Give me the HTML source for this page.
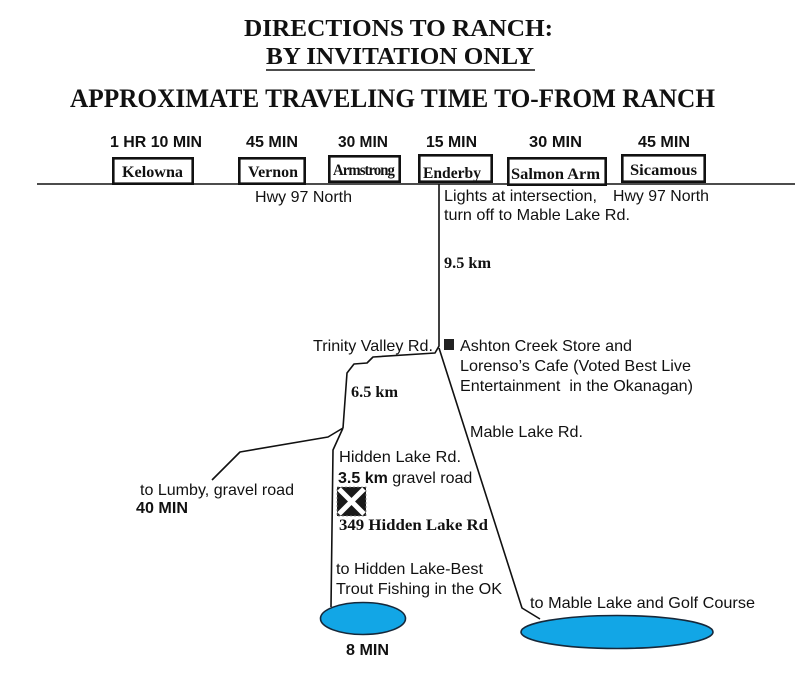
<!DOCTYPE html>
<html>
<head>
<meta charset="utf-8">
<style>
html,body{margin:0;padding:0;background:#fff;}
svg{display:block;}
.t{font-family:"Liberation Serif",serif;font-weight:bold;fill:#111;}
.s{font-family:"Liberation Sans",Arial,sans-serif;fill:#111;font-size:16px;}
.sb{font-family:"Liberation Sans",Arial,sans-serif;fill:#111;font-size:16px;font-weight:bold;}
.c{font-family:"Liberation Serif",serif;fill:#111;font-size:16px;font-weight:bold;}
.ln{stroke:#111;stroke-width:1.6;fill:none;stroke-linejoin:round;}
.bx{stroke:#111;stroke-width:2.6;fill:#fff;}
</style>
</head>
<body>
<svg width="800" height="698" viewBox="0 0 800 698" xmlns="http://www.w3.org/2000/svg">
  <rect width="800" height="698" fill="#fff"/>

  <!-- Titles -->
  <text class="t" x="244" y="36" font-size="24" textLength="309" lengthAdjust="spacingAndGlyphs">DIRECTIONS TO RANCH:</text>
  <text class="t" x="266" y="64" font-size="24" textLength="268" lengthAdjust="spacingAndGlyphs">BY INVITATION ONLY</text>
  <line x1="266" y1="70" x2="535" y2="70" stroke="#111" stroke-width="1.6"/>
  <text class="t" x="70" y="107" font-size="26" textLength="645" lengthAdjust="spacingAndGlyphs">APPROXIMATE TRAVELING TIME TO-FROM RANCH</text>

  <!-- Time labels -->
  <text class="sb" x="110" y="147" textLength="92" lengthAdjust="spacingAndGlyphs">1 HR 10 MIN</text>
  <text class="sb" x="246" y="147" textLength="52" lengthAdjust="spacingAndGlyphs">45 MIN</text>
  <text class="sb" x="338" y="147" textLength="50" lengthAdjust="spacingAndGlyphs">30 MIN</text>
  <text class="sb" x="426" y="147" textLength="51" lengthAdjust="spacingAndGlyphs">15 MIN</text>
  <text class="sb" x="529" y="147" textLength="53" lengthAdjust="spacingAndGlyphs">30 MIN</text>
  <text class="sb" x="638" y="147" textLength="52" lengthAdjust="spacingAndGlyphs">45 MIN</text>

  <!-- Main highway line -->
  <line x1="37" y1="184" x2="795" y2="184" stroke="#111" stroke-width="1.6"/>

  <!-- City boxes -->
  <rect class="bx" x="113.3" y="158.3" width="79.4" height="25.4"/>
  <rect class="bx" x="239.3" y="158.3" width="65.4" height="25.4"/>
  <rect class="bx" x="329.3" y="156.3" width="70.4" height="25.4"/>
  <rect class="bx" x="419.3" y="155.3" width="72.4" height="26.4"/>
  <rect class="bx" x="508.3" y="158.3" width="97.4" height="26.4"/>
  <rect class="bx" x="622.3" y="155.3" width="82.4" height="26.4"/>

  <text class="c" x="122" y="177" textLength="61" lengthAdjust="spacingAndGlyphs">Kelowna</text>
  <text class="c" x="248" y="177" textLength="50" lengthAdjust="spacingAndGlyphs">Vernon</text>
  <text class="c" x="333" y="175" textLength="61" lengthAdjust="spacingAndGlyphs" style="letter-spacing:-1px">Armstrong</text>
  <text class="c" x="423" y="178" textLength="58" lengthAdjust="spacingAndGlyphs">Enderby</text>
  <text class="c" x="511" y="179" textLength="89" lengthAdjust="spacingAndGlyphs">Salmon Arm</text>
  <text class="c" x="630" y="175" textLength="67" lengthAdjust="spacingAndGlyphs">Sicamous</text>

  <!-- Highway labels -->
  <text class="s" x="255" y="202" textLength="97" lengthAdjust="spacingAndGlyphs">Hwy 97 North</text>
  <text class="s" x="444" y="201" textLength="153" lengthAdjust="spacingAndGlyphs">Lights at intersection,</text>
  <text class="s" x="444" y="220" textLength="186" lengthAdjust="spacingAndGlyphs">turn off to Mable Lake Rd.</text>
  <text class="s" x="613" y="201" textLength="96" lengthAdjust="spacingAndGlyphs">Hwy 97 North</text>

  <!-- Roads -->
  <path class="ln" d="M439 184 V346 L435 353 L373 357 L367 363 L354 364 L347 373 L343 428"/>
  <path class="ln" d="M343 428 L328 437 L240 452 L212 480"/>
  <path class="ln" d="M343 428 L333 450 L331 607"/>
  <path class="ln" d="M439 348 L522 608 L540 619"/>

  <text class="c" x="444" y="268" textLength="47" lengthAdjust="spacingAndGlyphs">9.5 km</text>

  <!-- Ashton Creek -->
  <rect x="444" y="339" width="10" height="11" fill="#222"/>
  <text class="s" x="313" y="351" textLength="120" lengthAdjust="spacingAndGlyphs">Trinity Valley Rd.</text>
  <text class="s" x="460" y="351" textLength="172" lengthAdjust="spacingAndGlyphs">Ashton Creek Store and</text>
  <text class="s" x="460" y="371" textLength="231" lengthAdjust="spacingAndGlyphs">Lorenso’s Cafe (Voted Best Live</text>
  <text class="s" x="460" y="391" textLength="233" lengthAdjust="spacingAndGlyphs" xml:space="preserve">Entertainment  in the Okanagan)</text>

  <text class="c" x="351" y="397" textLength="47" lengthAdjust="spacingAndGlyphs">6.5 km</text>
  <text class="s" x="470" y="437" textLength="113" lengthAdjust="spacingAndGlyphs">Mable Lake Rd.</text>

  <!-- Hidden Lake Rd -->
  <text class="s" x="339" y="462" textLength="122" lengthAdjust="spacingAndGlyphs">Hidden Lake Rd.</text>
  <text x="338" y="483"><tspan class="sb">3.5 km</tspan><tspan class="s"> gravel road</tspan></text>

  <!-- Ranch icon -->
  <g>
    <rect x="337" y="487" width="29" height="29" fill="#1a1a1a"/>
    <line x1="339" y1="489" x2="364" y2="514" stroke="#fff" stroke-width="5"/>
    <line x1="364" y1="489" x2="339" y2="514" stroke="#fff" stroke-width="5"/>
    <rect x="337" y="487" width="29" height="29" fill="none" stroke="#888" stroke-width="0.8" stroke-dasharray="2 2"/>
  </g>
  <text class="c" x="339" y="530" textLength="149" lengthAdjust="spacingAndGlyphs">349 Hidden Lake Rd</text>

  <!-- Lumby -->
  <text class="s" x="140" y="495" textLength="154" lengthAdjust="spacingAndGlyphs">to Lumby, gravel road</text>
  <text class="sb" x="136" y="513" textLength="52" lengthAdjust="spacingAndGlyphs">40 MIN</text>

  <!-- Hidden Lake -->
  <text class="s" x="336" y="574" textLength="147" lengthAdjust="spacingAndGlyphs">to Hidden Lake-Best</text>
  <text class="s" x="336" y="594" textLength="166" lengthAdjust="spacingAndGlyphs">Trout Fishing in the OK</text>
  <ellipse cx="363" cy="618.5" rx="42.5" ry="16" fill="#12a6e6" stroke="#16283a" stroke-width="1.6"/>
  <text class="sb" x="346" y="655" textLength="43" lengthAdjust="spacingAndGlyphs">8 MIN</text>

  <!-- Mable Lake -->
  <text class="s" x="530" y="608" textLength="225" lengthAdjust="spacingAndGlyphs">to Mable Lake and Golf Course</text>
  <ellipse cx="617" cy="632" rx="96" ry="16.5" fill="#12a6e6" stroke="#16283a" stroke-width="1.6"/>
</svg>
</body>
</html>
